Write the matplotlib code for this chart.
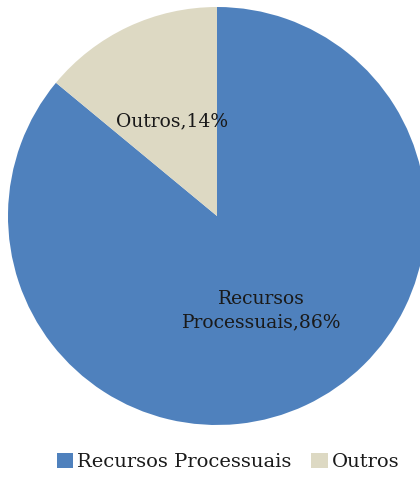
import matplotlib
matplotlib.use("Agg")
import matplotlib.pyplot as plt
from matplotlib.patches import Patch
from matplotlib.font_manager import FontProperties

# ─── DATA ─────────────────────────────────────────────
categories = ["Recursos Processuais", "Outros"]
shares     = [86, 14]
slice_labels = ["Recursos\nProcessuais,86%", "Outros,14%"]
colors     = ["#4f81bd", "#ddd9c3"]

# ─── FIGURE ───────────────────────────────────────────
fig = plt.figure(figsize=(4.2, 4.78), dpi=100)
W, H = 420, 478
cx, cy, r = 217, 216, 209   # pie centre/radius in pixels
ax = fig.add_axes([(cx - r) / W, (H - cy - r) / H, 2 * r / W, 2 * r / H])

wedges, texts = ax.pie(
    shares,
    labels=slice_labels,
    colors=colors,
    startangle=90,
    counterclock=False,
    labeldistance=0.5,
    radius=1,
    wedgeprops=dict(linewidth=0),
    textprops=dict(family="DejaVu Serif", fontsize=13.5, color="#1a1a1a"),
)
for t in texts:
    t.set_ha("center")
    t.set_va("center")
    t.set_linespacing(1.4)
for w in wedges:
    w.set_clip_on(False)

ax.set_xlim(-1, 1)
ax.set_ylim(-1, 1)
ax.set_aspect("equal")
ax.axis("off")

# ─── LEGEND ───────────────────────────────────────────
handles = [Patch(facecolor=c, edgecolor="none") for c in colors]
fig.legend(
    handles, categories,
    loc="center", bbox_to_anchor=(0.543, 1 - 462 / H),
    ncol=2, frameon=False,
    prop=FontProperties(family="DejaVu Serif", size=14),
    handlelength=0.85, handleheight=0.85, handletextpad=0.2,
    columnspacing=1.0, labelcolor="#1a1a1a",
)

fig.savefig("out.png", dpi=100)
